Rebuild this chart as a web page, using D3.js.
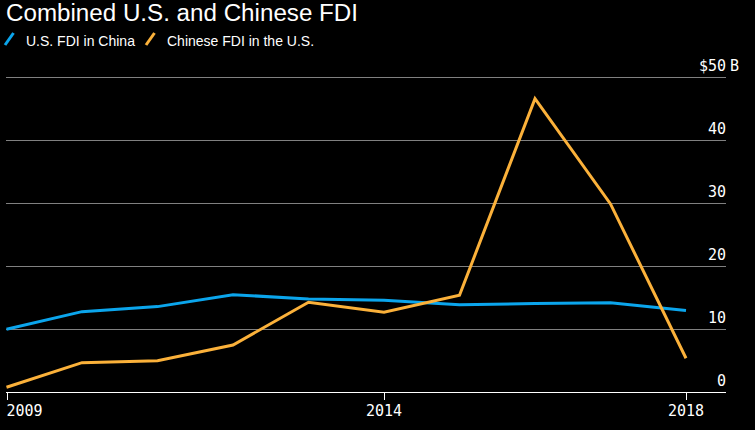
<!DOCTYPE html>
<html>
<head>
<meta charset="utf-8">
<script src="https://cdn.jsdelivr.net/npm/d3@7"></script>
<style>
  html, body { margin: 0; padding: 0; background: #000; }
  svg { display: block; }
</style>
</head>
<body>
<svg id="chart" width="755" height="430"></svg>
<script>
const years = [2009, 2010, 2011, 2012, 2013, 2014, 2015, 2016, 2017, 2018];
const usFdiInChina = [10.0, 12.8, 13.6, 15.5, 14.8, 14.6, 13.9, 14.1, 14.2, 13.0];
const chineseFdiInUS = [0.8, 4.7, 5.0, 7.5, 14.3, 12.7, 15.4, 46.6, 29.9, 5.4];
const seriesNames = ["U.S. FDI in China", "Chinese FDI in the U.S."];
const yTicks = [0, 10, 20, 30, 40, 50];
const xTicks = [2009, 2014, 2018];
const titleText = "Combined U.S. and Chinese FDI";

const colors = ["#0ba5ec", "#fbb13a"];
const svg = d3.select("#chart");
svg.append("rect").attr("width", 755).attr("height", 430).attr("fill", "#000");

const left = 6.5, right = 726;
const x = d3.scaleLinear().domain([2009, 2018]).range([left, 686]);
const y = d3.scaleLinear().domain([0, 50]).range([392.3, 77.3]);

// gridlines + y labels
const monoFont = "'DejaVu Sans Mono', 'Liberation Mono', monospace";
yTicks.forEach(t => {
  if (t > 0) {
    svg.append("line")
      .attr("x1", left - 0.5).attr("x2", right)
      .attr("y1", Math.round(y(t)) + 0.5).attr("y2", Math.round(y(t)) + 0.5)
      .attr("stroke", "#808080").attr("stroke-width", 1);
  }
  svg.append("text")
    .attr("x", right).attr("y", y(t) - 6.5)
    .attr("text-anchor", "end")
    .attr("fill", "#fff")
    .attr("font-family", monoFont)
    .attr("font-size", 15)
    .text(t === 50 ? "$50" : String(t));
});
svg.append("text")
  .attr("x", 730).attr("y", y(50) - 6.5)
  .attr("fill", "#fff")
  .attr("font-family", monoFont)
  .attr("font-size", 15)
  .text("B");

// x axis
svg.append("line")
  .attr("x1", left - 0.5).attr("x2", right)
  .attr("y1", 392.5).attr("y2", 392.5)
  .attr("stroke", "#fff").attr("stroke-width", 1.2);
xTicks.forEach((t, i) => {
  const xx = Math.round(x(t)) + 0.5;
  svg.append("line")
    .attr("x1", xx).attr("x2", xx)
    .attr("y1", 392.5).attr("y2", 400)
    .attr("stroke", "#fff").attr("stroke-width", 1);
  svg.append("text")
    .attr("x", i === 0 ? x(t) : x(t))
    .attr("y", 415.7)
    .attr("text-anchor", i === 0 ? "start" : "middle")
    .attr("fill", "#fff")
    .attr("font-family", monoFont)
    .attr("font-size", 15)
    .text(String(t));
});

// lines
const line = d3.line().x((d, i) => x(years[i])).y(d => y(d));
[usFdiInChina, chineseFdiInUS].forEach((s, k) => {
  svg.append("path")
    .datum(s)
    .attr("d", line)
    .attr("fill", "none")
    .attr("stroke", colors[k])
    .attr("stroke-width", 3)
    .attr("stroke-linejoin", "miter");
});

// title
const title = svg.append("text")
  .attr("x", 6).attr("y", 21)
  .attr("fill", "#fff")
  .attr("font-family", "'Liberation Sans', Arial, sans-serif")
  .attr("font-size", 23.5)
  .text(titleText);
const tl = title.node().getComputedTextLength();
if (Math.abs(tl - 352) > 3) title.attr("textLength", 352).attr("lengthAdjust", "spacingAndGlyphs");

// legend
const legendX = [5, 146];
seriesNames.forEach((n, k) => {
  svg.append("line")
    .attr("x1", legendX[k]).attr("y1", 45)
    .attr("x2", legendX[k] + 8.5).attr("y2", 33)
    .attr("stroke", colors[k]).attr("stroke-width", 3);
  svg.append("text")
    .attr("x", legendX[k] + 21).attr("y", 45.5)
    .attr("fill", "#fff")
    .attr("font-family", "'Liberation Sans', Arial, sans-serif")
    .attr("font-size", 14)
    .text(n);
});
</script>
</body>
</html>
